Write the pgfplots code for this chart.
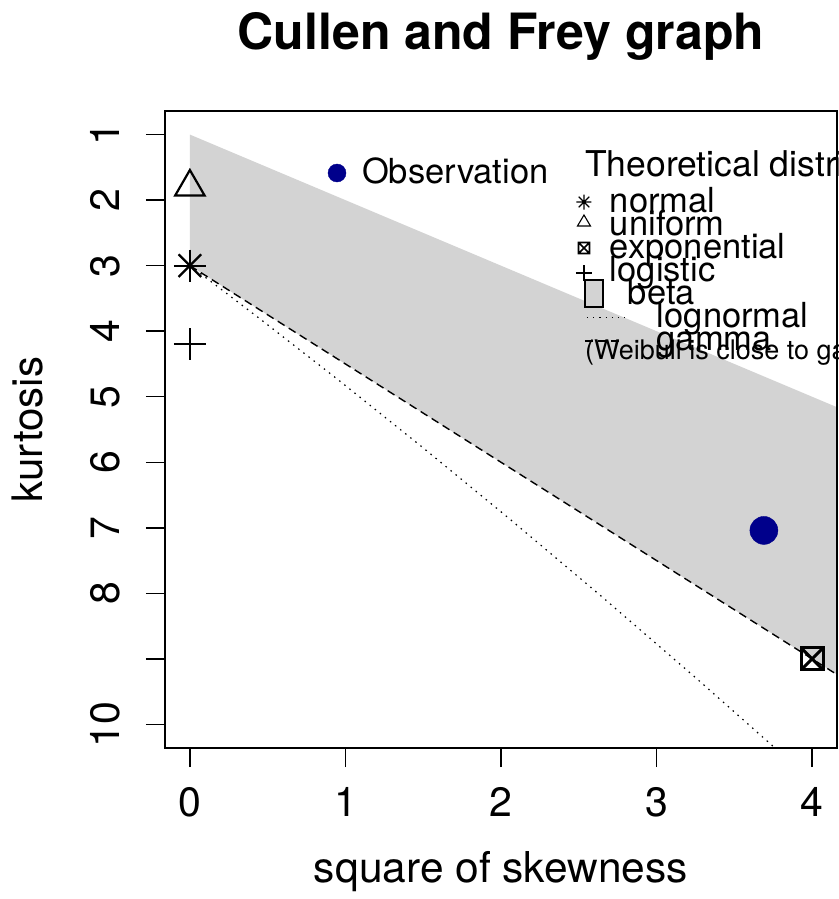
\documentclass[border=0pt]{standalone}
\usepackage{fontspec}
\setmainfont{TeX Gyre Heros}
\usepackage{pgfplots}
\pgfplotsset{compat=1.18}
\definecolor{obsblue}{HTML}{00008B}
\definecolor{betagray}{HTML}{D3D3D3}

\pgfplotsset{
  myleg/.style={
    legend cell align=left,
    legend style={draw=none, fill=none, inner sep=0pt, outer sep=0pt,
      /tikz/row sep=0pt, /tikz/column sep=0pt,
      font=\fontsize{34.5}{40}\selectfont,
      nodes={inner sep=0pt, outer sep=0pt, text height=21.5pt, text depth=1.5pt}},
  },
  mybox/.style={
    at={(165pt,151pt)}, anchor=south west,
    width=672pt, height=637pt, scale only axis,
    xmin=-0.16, xmax=4.16, ymin=0.64, ymax=10.36,
    y dir=reverse,
  },
}

\begin{document}
\begin{tikzpicture}
\path[use as bounding box, clip] (0pt,0pt) rectangle (838pt,899pt);
\begin{axis}[
  mybox,
  axis on top,
  axis line style={line width=1.5pt},
  every tick/.style={black, line width=1.5pt},
  tick align=outside,
  major tick length=19pt,
  xtick={0,1,2,3,4}, ytick={1,2,...,10},
  yticklabels={1,2,3,4,5,6,7,8,,10},
  xtick pos=bottom, ytick pos=left,
  /pgf/number format/assume math mode=true,
  ticklabel style={font=\fontsize{41}{48}\selectfont, inner sep=0pt},
  xticklabel style={anchor=north, yshift=-20pt},
  yticklabel style={xshift=-26pt, rotate=90, anchor=south},
  every axis title/.style={at={(axis description cs:0.5,1)}, anchor=base, yshift=61pt, inner sep=0pt, font=\fontsize{50}{60}\selectfont\bfseries},
  title={Cullen and Frey graph},
  every axis x label/.style={at={(axis description cs:0.5,0)}, anchor=base, yshift=-134pt, inner sep=0pt, font=\fontsize{42.5}{50}\selectfont},
  xlabel={square of skewness},
  every axis y label/.style={at={(axis description cs:0,0.5)}, xshift=-122pt, rotate=90, anchor=base, inner sep=0pt, font=\fontsize{42}{50}\selectfont},
  ylabel={kurtosis},
  myleg,
  legend style={at={(axis description cs:0.6086,0.8752)}, anchor=north west},
]
% beta region
\addplot[fill=betagray, draw=none, forget plot] coordinates {(0,1) (5,6) (5,10.5) (0,3)} -- cycle;
% lognormal
\addplot[black, line width=1.2pt, dash pattern=on 1.5pt off 5pt, forget plot] coordinates {
(0,3) (0.1824,3.3261) (0.4651,3.8383) (0.961,4.7561) (1.4884,5.7583) (2.048,6.8496) (2.6406,8.0352) (3.267,9.3201) (3.9279,10.7098)};
% gamma
\addplot[black, line width=1.4pt, dash pattern=on 8pt off 5pt, forget plot] coordinates {(0,3) (5,10.5)};
% normal
\addplot[black, only marks, mark=+, mark size=16pt, mark options={line width=2.2pt}, forget plot] coordinates {(0,3)};
\addplot[black, only marks, mark=x, mark size=16pt, mark options={line width=2.2pt}, forget plot] coordinates {(0,3)};
% uniform
\addplot[black, only marks, mark=triangle, mark size=17pt, mark options={line width=2.2pt}, forget plot] coordinates {(0,1.8)};
% logistic
\addplot[black, only marks, mark=+, mark size=16pt, mark options={line width=2.2pt}, forget plot] coordinates {(0,4.2)};
% exponential
\addplot[black, only marks, mark=square, mark size=11pt, mark options={line width=3pt}, forget plot] coordinates {(4,9)};
\addplot[black, only marks, mark=x, mark size=15.5pt, mark options={line width=3pt}, forget plot] coordinates {(4,9)};
% observation
\addplot[obsblue, only marks, mark=*, mark size=14pt, mark options={fill=obsblue, draw=obsblue}, forget plot] coordinates {(3.69,7.04)};

\addlegendimage{legend image code/.code={
  \path[draw=none, fill=none] (-10pt,-8pt) rectangle (26pt,8pt);
  \draw[black, line width=1.1pt] (-7.5pt,0pt) -- (7.5pt,0pt) (0pt,-7.5pt) -- (0pt,7.5pt) (-5.3pt,-5.3pt) -- (5.3pt,5.3pt) (-5.3pt,5.3pt) -- (5.3pt,-5.3pt);
}}
\addlegendentry{normal}
\addlegendimage{legend image code/.code={
  \path[draw=none, fill=none] (-10pt,-8pt) rectangle (26pt,8pt);
  \draw[black, line width=1.1pt] (-6.5pt,-1pt) -- (6.5pt,-1pt) -- (0pt,10pt) -- cycle;
}}
\addlegendentry{uniform}
\addlegendimage{legend image code/.code={
  \path[draw=none, fill=none] (-10pt,-8pt) rectangle (26pt,8pt);
  \draw[black, line width=1.6pt] (-5.5pt,-5.5pt) rectangle (5.5pt,5.5pt) (-5.5pt,-5.5pt) -- (5.5pt,5.5pt) (-5.5pt,5.5pt) -- (5.5pt,-5.5pt);
}}
\addlegendentry{exponential}
\addlegendimage{legend image code/.code={
  \path[draw=none, fill=none] (-10pt,-8pt) rectangle (26pt,8pt);
  \draw[black, line width=1.1pt] (-8pt,-2pt) -- (8pt,-2pt) (0pt,-10pt) -- (0pt,6pt);
}}
\addlegendentry{logistic}
\addlegendimage{legend image code/.code={
  \path[draw=none, fill=none] (-10pt,-8pt) rectangle (26pt,8pt);
  \draw[overlay, black, fill=betagray, line width=1.1pt] (1pt,-13pt) rectangle (19pt,14pt);
}}
\addlegendentry{\hspace*{18pt}beta}
\addlegendimage{legend image code/.code={
  \path[draw=none, fill=none] (-10pt,-8pt) rectangle (26pt,8pt);
  \draw[overlay, black, line width=1pt, dash pattern=on 1.2pt off 5pt] (3pt,0pt) -- (43pt,0pt);
}}
\addlegendentry{\hspace*{47pt}lognormal}
\addlegendimage{legend image code/.code={
  \path[draw=none, fill=none] (-10pt,-8pt) rectangle (26pt,8pt);
  \draw[overlay, black, line width=1.2pt, dash pattern=on 8pt off 5pt] (1pt,-1pt) -- (39pt,-1pt);
}}
\addlegendentry{\hspace*{47pt}gamma}
\end{axis}

\begin{axis}[
  mybox, hide axis, myleg,
  legend style={at={(axis description cs:0.2411,0.9207)}, anchor=north west},
]
\addlegendimage{legend image code/.code={
  \path[draw=none, fill=none] (-10pt,-8pt) rectangle (25pt,8pt);
  \fill[obsblue] (0pt,0pt) circle[radius=9pt];
}}
\addlegendentry{Observation}
\end{axis}

\node[anchor=base west, inner sep=0pt, font=\fontsize{35.5}{40}\selectfont] at (585pt,722pt) {Theoretical distributions};
\node[anchor=base west, inner sep=0pt, font=\fontsize{27}{32}\selectfont] at (585pt,539pt) {(Weibull is close to gamma and lognormal)};
\end{tikzpicture}
\end{document}
